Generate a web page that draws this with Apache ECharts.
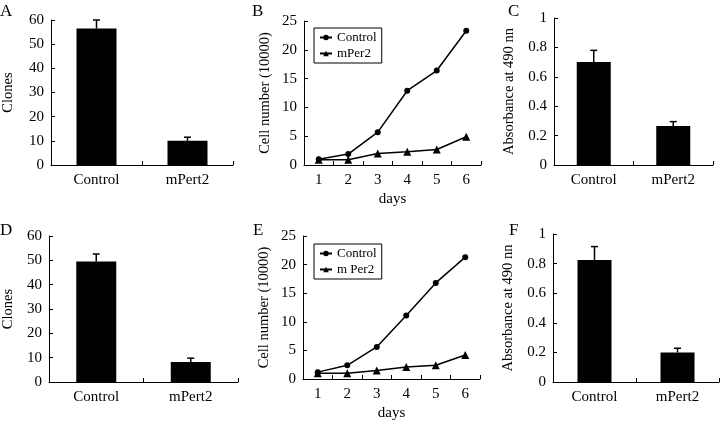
<!DOCTYPE html>
<html>
<head>
<meta charset="utf-8">
<script src="https://cdn.jsdelivr.net/npm/echarts@6/dist/echarts.min.js"></script>
<style>html,body{margin:0;padding:0;background:#fff}#c{width:720px;height:422px}</style>
</head>
<body>
<div id="c"></div>
<script>
const barCats = ['Control', 'mPert2'];
const clonesA = [56.5, 10.0];
const clonesAErr = [3.5, 1.5];
const absC = [0.70, 0.265];
const absCErr = [0.08, 0.03];
const clonesD = [49.5, 8.2];
const clonesDErr = [3.1, 1.6];
const absF = [0.825, 0.20];
const absFErr = [0.09, 0.028];
const days = ['1', '2', '3', '4', '5', '6'];
const ctrlB = [1.0, 1.9, 5.7, 12.9, 16.4, 23.3];
const per2B = [0.9, 0.9, 2.0, 2.3, 2.7, 4.9];
const ctrlE = [1.2, 2.4, 5.6, 11.1, 16.8, 21.3];
const per2E = [1.0, 1.0, 1.5, 2.1, 2.4, 4.2];
const panelLetters = ['A', 'B', 'C', 'D', 'E', 'F'];

const FONT = 'Liberation Serif';
const chart = echarts.init(document.getElementById('c'));

const grids = [
  {left: 48, top: 20, width: 185, height: 145},
  {left: 304, top: 21, width: 177, height: 144},
  {left: 554, top: 18, width: 159, height: 147},
  {left: 46, top: 236, width: 192, height: 146},
  {left: 303, top: 236, width: 177, height: 146},
  {left: 553, top: 234, width: 166, height: 148}
];

const axisLineStyle = {show: true, lineStyle: {color: '#000', width: 1}};

function xCat(gi, data, name) {
  return {
    type: 'category', gridIndex: gi, data: data, boundaryGap: true,
    axisLine: axisLineStyle,
    axisTick: {show: true, inside: true, length: 4, lineStyle: {color: '#000'}},
    axisLabel: {margin: 8, color: '#000', fontFamily: FONT, fontSize: 15},
    name: name || '', nameLocation: 'middle', nameGap: 27,
    nameTextStyle: {color: '#000', fontFamily: FONT, fontSize: 15}
  };
}
function yVal(gi, max, interval, name, gap) {
  return {
    type: 'value', gridIndex: gi, min: 0, max: max, interval: interval,
    splitLine: {show: false},
    axisLine: axisLineStyle,
    axisTick: {show: true, inside: true, length: 4, lineStyle: {color: '#000'}},
    axisLabel: {margin: 7, color: '#000', fontFamily: FONT, fontSize: 15},
    name: name, nameLocation: 'middle', nameGap: gap, nameRotate: 90,
    nameTextStyle: {color: '#000', fontFamily: FONT, fontSize: 14.5}
  };
}

function errSeries(ai, vals, errs) {
  return {
    type: 'custom', xAxisIndex: ai, yAxisIndex: ai, z: 5,
    data: vals.map((v, i) => [i, v, v + errs[i]]),
    renderItem: function (params, api) {
      const b = api.coord([api.value(0), api.value(1)]);
      const t = api.coord([api.value(0), api.value(2)]);
      return {type: 'group', children: [
        {type: 'line', shape: {x1: b[0], y1: b[1], x2: b[0], y2: t[1]}, style: {stroke: '#000', lineWidth: 1.5}},
        {type: 'line', shape: {x1: b[0] - 3.5, y1: t[1], x2: b[0] + 3.5, y2: t[1]}, style: {stroke: '#000', lineWidth: 1.5}}
      ]};
    }
  };
}
function barSeries(ai, vals, w) {
  return {type: 'bar', xAxisIndex: ai, yAxisIndex: ai, data: vals, barWidth: w,
    itemStyle: {color: '#000'}, silent: true};
}
function lineSeries(ai, name, vals, symbol, size) {
  return {type: 'line', name: name, xAxisIndex: ai, yAxisIndex: ai, data: vals,
    symbol: symbol, symbolSize: size, showAllSymbol: true,
    lineStyle: {color: '#000', width: 1.5}, itemStyle: {color: '#000'}};
}
function legendAt(left, top, names) {
  return {
    left: left, top: top, orient: 'vertical', data: names,
    borderColor: '#000', borderWidth: 1, padding: [3, 5, 3, 5], itemGap: 3,
    itemWidth: 12, itemHeight: 7,
    textStyle: {color: '#000', fontFamily: FONT, fontSize: 13},
    selectedMode: false
  };
}

const letterPos = [[0, 3], [252, 3], [508, 3], [0, 222], [253, 222], [509, 222]];

chart.setOption({
  animation: false,
  backgroundColor: '#fff',
  grid: grids,
  title: panelLetters.map((t, i) => ({text: t, left: letterPos[i][0], top: letterPos[i][1], padding: 0,
    textStyle: {color: '#000', fontFamily: FONT, fontSize: 17, fontWeight: 'normal'}})),
  legend: [legendAt(314, 28, ['Control', 'mPer2']), legendAt(314, 244, ['Control', 'm Per2'])],
  xAxis: [
    xCat(0, barCats), xCat(1, days, 'days'), xCat(2, barCats),
    xCat(3, barCats), xCat(4, days, 'days'), xCat(5, barCats)
  ],
  yAxis: [
    yVal(0, 60, 10, 'Clones', 35),
    yVal(1, 25, 5, 'Cell number (10000)', 31),
    yVal(2, 1, 0.2, 'Absorbance at 490 nn', 37),
    yVal(3, 60, 10, 'Clones', 33),
    yVal(4, 25, 5, 'Cell number (10000)', 31),
    yVal(5, 1, 0.2, 'Absorbance at 490 nn', 37)
  ],
  series: [
    barSeries(0, clonesA, 40), errSeries(0, clonesA, clonesAErr),
    lineSeries(1, 'Control', ctrlB, 'circle', 6), lineSeries(1, 'mPer2', per2B, 'triangle', 8),
    barSeries(2, absC, 34), errSeries(2, absC, absCErr),
    barSeries(3, clonesD, 40), errSeries(3, clonesD, clonesDErr),
    lineSeries(4, 'Control', ctrlE, 'circle', 6), lineSeries(4, 'm Per2', per2E, 'triangle', 8),
    barSeries(5, absF, 34), errSeries(5, absF, absFErr)
  ]
});
</script>
</body>
</html>
